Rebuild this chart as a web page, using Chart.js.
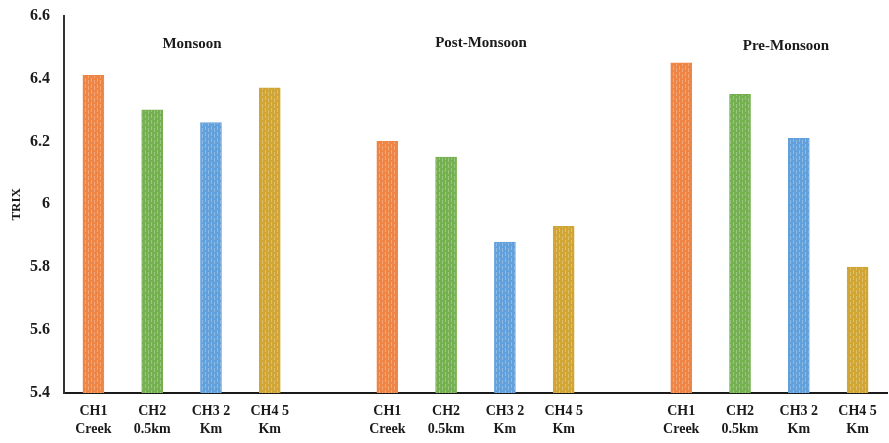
<!DOCTYPE html>
<html>
<head>
<meta charset="utf-8">
<script src="https://cdn.jsdelivr.net/npm/chart.js@4.4.1/dist/chart.umd.min.js"></script>
<style>
  html, body { margin: 0; padding: 0; background: #ffffff; }
  #wrap { width: 889px; height: 443px; position: relative; }
</style>
</head>
<body>
<div id="wrap"><canvas id="c" width="889" height="443"></canvas></div>
<script>
// Station labels (two lines each) and season names
const stations = [['CH1', 'Creek'], ['CH2', '0.5km'], ['CH3 2', 'Km'], ['CH4 5', 'Km']];
const seasons = ['Monsoon', 'Post-Monsoon', 'Pre-Monsoon'];

// TRIX values per season, in station order
const monsoon = [6.41, 6.30, 6.26, 6.37];
const postMonsoon = [6.20, 6.15, 5.88, 5.93];
const preMonsoon = [6.45, 6.35, 6.21, 5.80];

// Y axis range
const yMin = 5.4, yMax = 6.6, yStep = 0.2;

// Bar colours per station
const stationColors = ['#ef8544', '#74b04f', '#62a0dc', '#d0a533'];

// Build the category list with an empty slot between seasons
const labels = [];
const values = [];
const colorIdx = [];
[monsoon, postMonsoon, preMonsoon].forEach((season, s) => {
  if (s > 0) { labels.push(''); values.push(null); colorIdx.push(0); }
  season.forEach((v, i) => { labels.push(stations[i]); values.push(v); colorIdx.push(i); });
});

// Light vertical dash texture over a base colour
function texture(base) {
  const p = document.createElement('canvas');
  p.width = 6; p.height = 6;
  const g = p.getContext('2d');
  g.fillStyle = base;
  g.fillRect(0, 0, 6, 6);
  g.fillStyle = 'rgba(255,255,255,0.28)';
  g.fillRect(1, 0, 1, 4);
  g.fillRect(4, 2, 1, 4);
  return document.getElementById('c').getContext('2d').createPattern(p, 'repeat');
}
const fills = stationColors.map(texture);

// Season headings drawn above each group
const seasonTitles = {
  id: 'seasonTitles',
  afterDraw(chart, args, opts) {
    const ctx = chart.ctx;
    ctx.save();
    ctx.font = 'bold 15px "Liberation Serif", "Times New Roman", serif';
    ctx.fillStyle = '#1a1a1a';
    ctx.textAlign = 'center';
    ctx.textBaseline = 'middle';
    seasons.forEach((name, i) => ctx.fillText(name, opts.x[i], opts.y[i]));
    ctx.restore();
  }
};

const serif = '"Liberation Serif", "Times New Roman", serif';

new Chart(document.getElementById('c'), {
  type: 'bar',
  data: {
    labels: labels,
    datasets: [{
      data: values,
      backgroundColor: colorIdx.map(i => fills[i]),
      borderColor: colorIdx.map(i => stationColors[i]),
      borderWidth: 1,
      barThickness: 21
    }]
  },
  options: {
    responsive: false,
    animation: false,
    layout: { padding: { top: 13, right: 2, left: 0, bottom: 0 } },
    plugins: {
      legend: { display: false },
      tooltip: { enabled: false },
      seasonTitles: { x: [192, 481, 786], y: [44, 43, 46] }
    },
    scales: {
      x: {
        grid: { display: false },
        border: { display: true, color: '#1a1a1a', width: 2 },
        ticks: {
          color: '#1a1a1a',
          font: { family: serif, size: 14, weight: 'bold', lineHeight: 1.25 },
          padding: 2,
          maxRotation: 0,
          autoSkip: false
        },
        afterFit(scale) { scale.height = 50; }
      },
      y: {
        min: yMin,
        max: yMax,
        grid: { display: false },
        border: { display: true, color: '#333333', width: 2 },
        ticks: {
          stepSize: yStep,
          color: '#1a1a1a',
          font: { family: serif, size: 16, weight: 'bold' },
          padding: 6,
          callback: v => Number(v.toFixed(1)).toString()
        },
        title: {
          display: true,
          text: 'TRIX',
          color: '#1a1a1a',
          font: { family: serif, size: 13, weight: 'bold' },
          padding: { top: 9, bottom: 0 }
        },
        afterFit(scale) { scale.width = 64; }
      }
    }
  },
  plugins: [seasonTitles]
});
</script>
</body>
</html>
